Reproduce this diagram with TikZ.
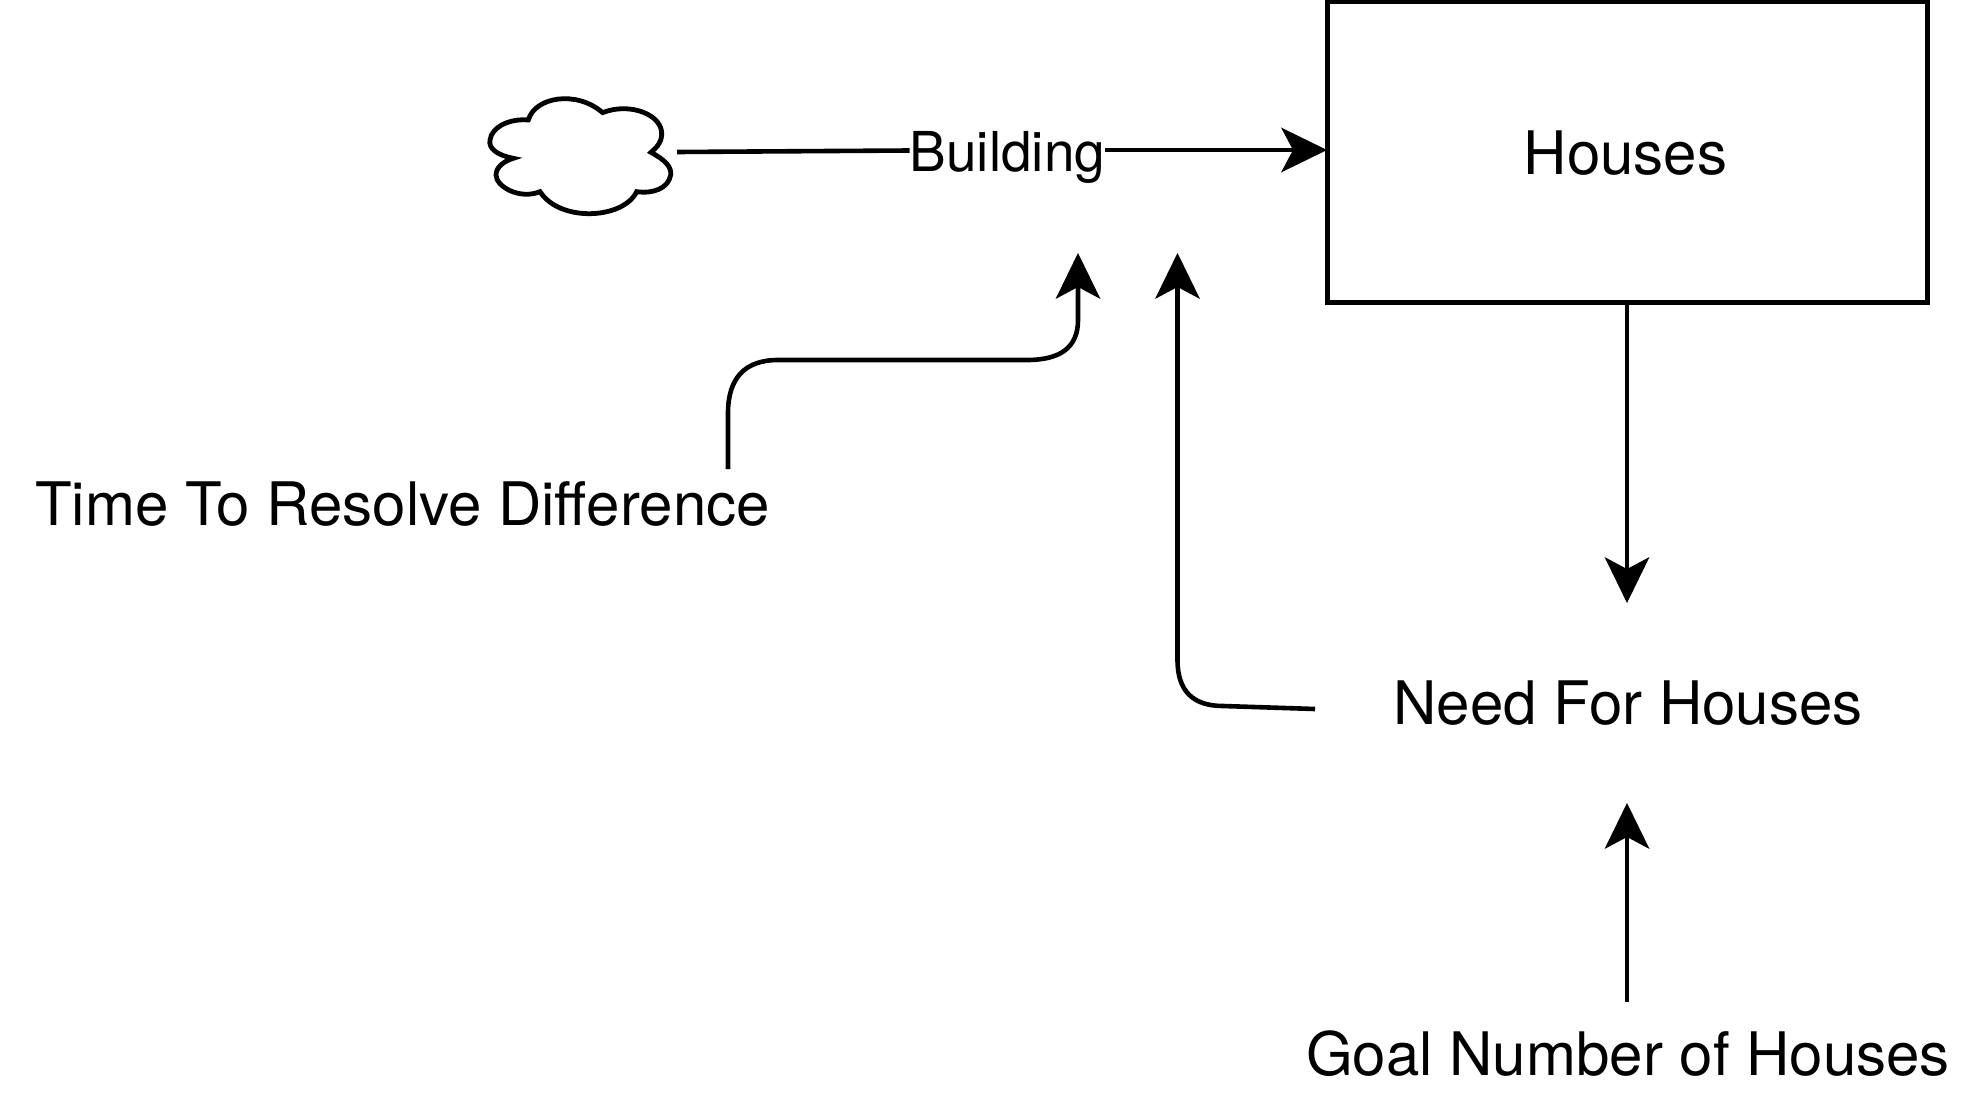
\documentclass[tikz,border=0pt]{standalone}
\usepackage{fontspec}
\setmainfont{TeX Gyre Heros}
\usetikzlibrary{arrows.meta}
\tikzset{
  label59/.style={inner sep=0pt,outer sep=0pt,anchor=base,font=\fontsize{60}{64}\selectfont},
  label55/.style={inner sep=0pt,outer sep=0pt,anchor=base,font=\fontsize{55}{60}\selectfont},
  stockbox/.style={draw,line width=5pt,inner sep=0pt,outer sep=0pt,minimum width=600pt,minimum height=300pt},
  conn/.style={line width=4.6pt,-{Stealth[length=46pt,width=45pt,inset=12pt,line width=0pt]}},
  plainconn/.style={line width=4.6pt},
  cloudline/.style={line width=4.8pt,miter limit=10,line join=miter}
}
\begin{document}
\begin{tikzpicture}[x=1pt,y=-1pt]
\useasboundingbox (0,0) rectangle (1980,1105);
% cloud
\begin{scope}[shift={(460,60)},x=0.33333pt,y=-0.33333pt]
\draw[cloudline] (205,180) .. controls (225,110) and (350,90) .. (428,158)
  .. controls (510,125) and (610,165) .. (605,225)
  .. controls (603,250) and (590,262) .. (573,277)
  .. controls (615,300) and (635,320) .. (632,345)
  .. controls (625,385) and (580,402) .. (530,395)
  .. controls (490,478) and (300,488) .. (240,395)
  .. controls (180,420) and (108,380) .. (108,345)
  .. controls (108,320) and (135,302) .. (160,295)
  .. controls (110,285) and (85,265) .. (90,240)
  .. controls (95,200) and (150,175) .. (205,180) -- cycle;
\end{scope}
% nodes
\node[stockbox] (houses) at (1627,152) {};
\node[label59] (houseslabel) at (1625.5,174.5) {Houses};
\node[label55] (building) at (1007.5,171) {Building};
\node[label59] (time) at (402.5,525) {Time To Resolve Difference};
\node[label59] (need) at (1628,724.5) {Need For Houses};
\node[label59] (goal) at (1628,1075) {Goal Number of Houses};
% free ends
\coordinate (cloudout) at (677,152);
\coordinate (timeout) at (728,469);
\coordinate (timetip) at (1078,253);
\coordinate (needout) at (1315,709);
\coordinate (needtip) at (1177.5,253);
\coordinate (housestip) at (1627,603);
\coordinate (goalout) at (1627,1002);
\coordinate (goaltip) at (1627,803);
% connectors
\draw[plainconn] (cloudout) -- (building.west |- 0,150.5);
\draw[conn] (building.east |- 0,150) -- (houses.west |- 0,150);
\draw[conn] (timeout) -- (728,413) .. controls (728,378) and (745,360) .. (778,360)
  -- (1027,360) .. controls (1061,360) and (1078,347) .. (1078,320) -- (timetip);
\draw[conn] (needout) -- (1223,706) .. controls (1193,706) and (1177.5,691) .. (1177.5,660) -- (needtip);
\draw[conn] (houses.south) -- (housestip);
\draw[conn] (goalout) -- (goaltip);
\end{tikzpicture}
\end{document}
